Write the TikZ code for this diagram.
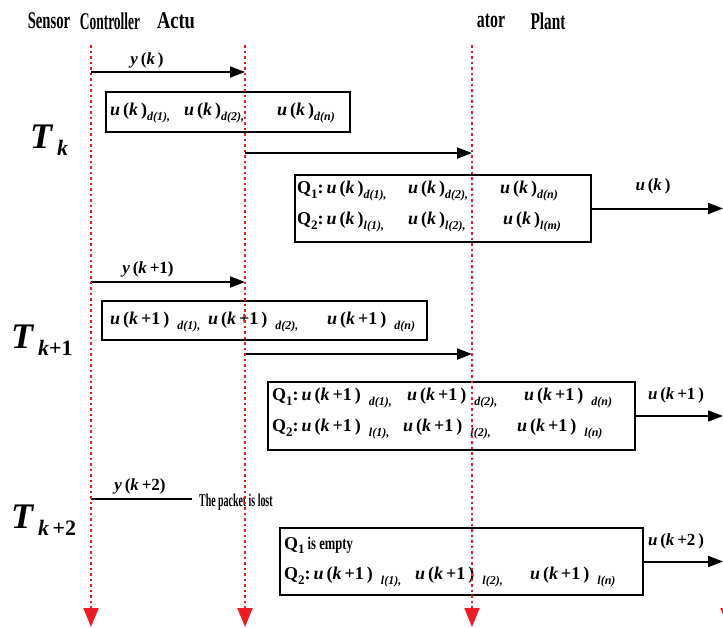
\documentclass[tikz,border=0pt]{standalone}
\usepackage{fontspec}
\setmainfont{Liberation Serif}
\usetikzlibrary{arrows.meta}
\definecolor{tred}{RGB}{237,28,36}
\newcommand{\bi}[1]{\textbf{\textit{#1}}}
\newcommand{\uu}[1]{\bi{u}\,\textbf{(}#1\,\textbf{)}}
\newcommand{\kp}[1]{\bi{k}\,\textbf{+#1}}
\newcommand{\ssb}[1]{\raisebox{-0.5ex}{\fontsize{12}{12}\selectfont\bi{#1}}}
\newcommand{\qq}[1]{\textbf{Q}\raisebox{-0.5ex}{\fontsize{13}{13}\selectfont\textbf{#1}}}
\begin{document}
\begin{tikzpicture}[x=1pt,y=-1pt,
  lane/.style={tred, line width=2pt, dash pattern=on 2.5pt off 3pt, -{Triangle[length=19pt,width=15pt]}},
  msg/.style={line width=2pt, -{Triangle[length=15pt,width=11pt]}},
  plainline/.style={line width=2pt},
  qbox/.style={draw, line width=1.8pt, inner sep=0pt},
  txt/.style={inner sep=0pt, anchor=west, font=\fontsize{18}{21}\selectfont},
  lbl/.style={inner sep=0pt, font=\fontsize{17}{20}\selectfont},
  hdr/.style={inner sep=0pt, font=\fontsize{24}{26}\selectfont\bfseries},
  tlab/.style={inner sep=0pt, anchor=west, font=\fontsize{36}{38}\selectfont}]
\useasboundingbox (0,0) rectangle (723,627);
\clip (0,0) rectangle (723,627);

% headers
\node[hdr] (hs) at (49,21) {\scalebox{0.61}[1]{Sensor}};
\node[hdr] (hc) at (110,21) {\scalebox{0.56}[1]{Controller}};
\node[hdr] (ha) at (176,21) {\scalebox{0.77}[1]{Actu}};
\node[hdr] (hb) at (491,21) {\scalebox{0.66}[1]{ator}};
\node[hdr] (hp) at (548,21) {\scalebox{0.64}[1]{Plant}};

% period labels
\node[tlab] (tk) at (30,140) {\bi{T}\raisebox{-0.45ex}{\fontsize{22}{22}\selectfont\,\bi{k}}};
\node[tlab] (tk1) at (11,340) {\bi{T}\raisebox{-0.45ex}{\fontsize{22}{22}\selectfont\,\bi{k}\textbf{+1}}};
\node[tlab] (tk2) at (11,520) {\bi{T}\raisebox{-0.45ex}{\fontsize{22}{22}\selectfont\,\bi{k}\,\textbf{+2}}};

% lane coordinates
\coordinate (s0) at (91,45);  \coordinate (s1) at (91,627);
\coordinate (c0) at (245,45); \coordinate (c1) at (245,627);
\coordinate (a0) at (472,45); \coordinate (a1) at (472,627);
\coordinate (p0) at (728,45); \coordinate (p1) at (728,627);

% boxes
\node[qbox, minimum width=244pt, minimum height=40pt] (b1) at (228,112) {};
\node[qbox, minimum width=296pt, minimum height=67pt] (b2) at (443,208.5) {};
\node[qbox, minimum width=325pt, minimum height=39pt] (b3) at (264.5,320.5) {};
\node[qbox, minimum width=367pt, minimum height=68pt] (b4) at (451.5,416) {};
\node[qbox, minimum width=363pt, minimum height=67pt] (b5) at (461.5,561.5) {};

% box 1
\node[txt] (t11) at (110,113) {\uu{\bi{k}}\ssb{d(1),}};
\node[txt] (t12) at (184,113) {\uu{\bi{k}}\ssb{d(2),}};
\node[txt] (t13) at (277,113) {\uu{\bi{k}}\ssb{d(n)}};
% box 2
\node[txt] (t21) at (297,191) {\qq{1}\textbf{:}\,\uu{\bi{k}}\ssb{d(1),}};
\node[txt] (t22) at (408,191) {\uu{\bi{k}}\ssb{d(2),}};
\node[txt] (t23) at (500,191) {\uu{\bi{k}}\ssb{d(n)}};
\node[txt] (t24) at (297,222) {\qq{2}\textbf{:}\,\uu{\bi{k}}\ssb{l(1),}};
\node[txt] (t25) at (408,222) {\uu{\bi{k}}\ssb{l(2),}};
\node[txt] (t26) at (503,222) {\uu{\bi{k}}\ssb{l(m)}};
% box 3
\node[txt] (t31) at (110,322) {\uu{\kp{1}}\hspace{8pt}\ssb{d(1),}};
\node[txt] (t32) at (208,322) {\uu{\kp{1}}\hspace{8pt}\ssb{d(2),}};
\node[txt] (t33) at (327,322) {\uu{\kp{1}}\hspace{8pt}\ssb{d(n)}};
% box 4
\node[txt] (t41) at (272,398) {\qq{1}\textbf{:}\,\uu{\kp{1}}\hspace{8pt}\ssb{d(1),}};
\node[txt] (t42) at (407,398) {\uu{\kp{1}}\hspace{8pt}\ssb{d(2),}};
\node[txt] (t43) at (524,398) {\uu{\kp{1}}\hspace{8pt}\ssb{d(n)}};
\node[txt] (t44) at (272,429) {\qq{2}\textbf{:}\,\uu{\kp{1}}\hspace{8pt}\ssb{l(1),}};
\node[txt] (t45) at (403,429) {\uu{\kp{1}}\hspace{8pt}\ssb{l(2),}};
\node[txt] (t46) at (517,429) {\uu{\kp{1}}\hspace{8pt}\ssb{l(n)}};
% box 5
\node[txt] (t51) at (284,545) {\qq{1}\,\scalebox{0.7}[1]{\textbf{is empty}}};
\node[txt] (t52) at (284,577) {\qq{2}\textbf{:}\,\uu{\kp{1}}\hspace{8pt}\ssb{l(1),}};
\node[txt] (t53) at (415,577) {\uu{\kp{1}}\hspace{8pt}\ssb{l(2),}};
\node[txt] (t54) at (530,577) {\uu{\kp{1}}\hspace{8pt}\ssb{l(n)}};

% messages
\coordinate (m1a) at (91,72);   \coordinate (m1b) at (245,72);
\coordinate (m2a) at (245,153); \coordinate (m2b) at (472,153);
\coordinate (m3b) at (723,208.5);
\coordinate (m4a) at (91,282);  \coordinate (m4b) at (245,282);
\coordinate (m5a) at (245,354); \coordinate (m5b) at (472,354);
\coordinate (m6b) at (723,416);
\coordinate (m7a) at (91,499);  \coordinate (m7b) at (192,499);
\coordinate (m8b) at (723,561.5);

\draw[msg] (m1a) -- (m1b);
\draw[msg] (m2a) -- (m2b);
\draw[msg] (b2.east) -- (m3b);
\draw[msg] (m4a) -- (m4b);
\draw[msg] (m5a) -- (m5b);
\draw[msg] (b4.east) -- (m6b);
\draw[plainline] (m7a) -- (m7b);
\draw[msg] (b5.east) -- (m8b);

% message labels
\node[lbl] (l1) at (147,60) {\bi{y}\,\textbf{(}\bi{k}\,\textbf{)}};
\node[lbl] (l2) at (653,186) {\uu{\bi{k}}};
\node[lbl] (l3) at (148,269) {\bi{y}\,\textbf{(}\kp{1}\textbf{)}};
\node[lbl] (l4) at (676,395) {\uu{\kp{1}}};
\node[lbl] (l5) at (140,486) {\bi{y}\,\textbf{(}\kp{2}\textbf{)}};
\node[lbl] (l6) at (676,541) {\uu{\kp{2}}};
\node[inner sep=0pt, anchor=west, font=\fontsize{18}{20}\selectfont] (lost) at (199,502) {\scalebox{0.55}[1]{\textbf{The packet is lost}}};

% lanes
\draw[lane] (s0) -- (s1);
\draw[lane] (c0) -- (c1);
\draw[lane] (a0) -- (a1);
\draw[lane] (p0) -- (p1);
\end{tikzpicture}
\end{document}
